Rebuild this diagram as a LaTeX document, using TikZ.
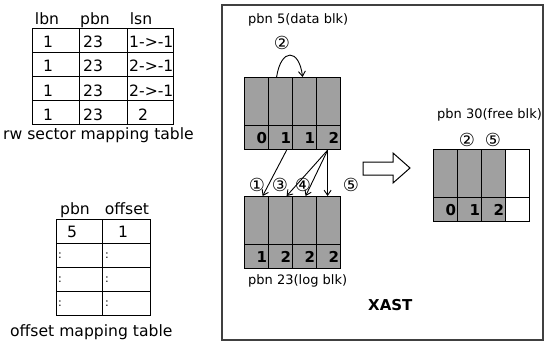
\documentclass[tikz,border=0pt]{standalone}
\usepackage{fontspec}
\setmainfont{DejaVu Sans}
\usetikzlibrary{arrows.meta}
\definecolor{cellgray}{HTML}{A0A0A0}
\begin{document}
\begin{tikzpicture}[x=1pt,y=-1pt,
  tabtxt/.style={font=\fontsize{15.6}{16}\selectfont, inner sep=0pt},
  ttl/.style={font=\fontsize{13}{14}\selectfont, inner sep=0pt, anchor=base west},
  circ/.style={font=\fontsize{18}{18}\selectfont, inner sep=0pt},
  tcell/.style={draw, line width=1.2pt, minimum height=24pt, inner sep=0pt, anchor=north west},
  ucell/.style={draw, line width=1.2pt, fill=cellgray, minimum width=24pt, minimum height=48pt, inner sep=0pt, anchor=north west},
  lcell/.style={draw, line width=1.2pt, fill=cellgray, minimum width=24pt, minimum height=24pt, inner sep=0pt, anchor=north west,
    text width=21pt, align=right, font=\bfseries\fontsize{15}{15}\selectfont},
  flow/.style={line width=0.9pt, -{Straight Barb[length=5pt,width=7pt]}},
  dots/.style={font=\fontsize{11}{11}\selectfont, inner sep=0pt},
]
\useasboundingbox (0,0) rectangle (545,342);

% ---------- rw sector mapping table ----------
\node[tabtxt, anchor=base] (hlbn) at (47,25) {lbn};
\node[tabtxt, anchor=base] (hpbn) at (95,25) {pbn};
\node[tabtxt, anchor=base] (hlsn) at (141,25) {lsn};
\foreach \r/\s in {1/1->-1, 2/2->-1, 3/2->-1} {
  \node[tcell, minimum width=47pt] (rwa\r) at (32,{28+24*(\r-1)}) {};
  \node[tcell, minimum width=48pt] (rwb\r) at (79,{28+24*(\r-1)}) {};
  \node[tcell, minimum width=46pt] (rwc\r) at (127,{28+24*(\r-1)}) {};
  \node[tabtxt, anchor=base] (rwta\r) at (48,{48+24*(\r-1)}) {1};
  \node[tabtxt, anchor=base west] (rwtb\r) at (83,{48+24*(\r-1)}) {23};
  \node[tabtxt, anchor=base west] (rwtc\r) at (129,{48+24*(\r-1)}) {\s};
}
\node[tcell, minimum width=47pt] (rwa4) at (32,100) {};
\node[tcell, minimum width=48pt] (rwb4) at (79,100) {};
\node[tcell, minimum width=46pt] (rwc4) at (127,100) {};
\node[tabtxt, anchor=base] (rwta4) at (48,120) {1};
\node[tabtxt, anchor=base west] (rwtb4) at (83,120) {23};
\node[tabtxt, anchor=base] (rwtc4) at (143,120) {2};
\node[tabtxt, anchor=base west] (rwcap) at (3,139) {rw sector mapping table};

% ---------- offset mapping table ----------
\node[tabtxt, anchor=base] (hopbn) at (75,214) {pbn};
\node[tabtxt, anchor=base] (hooff) at (127,214) {offset};
\foreach \r in {1,...,4} {
  \node[tcell, minimum width=46pt] (ofa\r) at (56,{219+24*(\r-1)}) {};
  \node[tcell, minimum width=48pt] (ofb\r) at (102,{219+24*(\r-1)}) {};
}
\node[tabtxt, anchor=base] (oft5) at (72,237) {5};
\node[tabtxt, anchor=base] (oft1) at (123,237) {1};
\foreach \r in {2,3,4} {
  \node[dots] (ofda\r) at (60,{256+24*(\r-2)}) {:};
  \node[dots] (ofdb\r) at (107,{256+24*(\r-2)}) {:};
}
\node[tabtxt, anchor=base west] (ofcap) at (10,336) {offset mapping table};

% ---------- XAST panel ----------
\draw[line width=1.3pt, black!75] (222,5) rectangle (543,340);

% data block (pbn 5)
\node[ttl] (tdata) at (248,24) {pbn 5(data blk)};
\foreach \i/\d in {0/0,1/1,2/1,3/2} {
  \node[ucell] (du\i) at ({244+24*\i},77) {};
  \node[lcell] (dl\i) at ({244+24*\i},125) {\d};
}
\node[circ] (c2a) at (282,43) {②};
\draw[flow]
  ([xshift=-4pt]du1.north) .. controls (281,48) and (299,48) .. ([xshift=-2pt]du2.north);

% log block (pbn 23)
\foreach \i/\d in {0/1,1/2,2/2,3/2} {
  \node[ucell] (lu\i) at ({244+24*\i},196) {};
  \node[lcell] (ll\i) at ({244+24*\i},244) {\d};
}
\node[ttl] (tlog) at (248,284) {pbn 23(log blk)};
\node[circ] (c1) at (257,185) {①};
\node[circ] (c3) at (280,185) {③};
\node[circ] (c4) at (303,185) {④};
\node[circ] (c5) at (351,185) {⑤};

% sector moves from data block to log block
\draw[flow] ([xshift=6pt]dl1.south) -- ([xshift=6pt]lu0.north);
\draw[flow] ([xshift=-1pt]dl3.south) -- ([xshift=6pt]lu1.north);
\draw[flow] ([xshift=-1pt]dl3.south) -- ([xshift=1pt]lu2.north);
\draw[flow] ([xshift=-1pt]dl3.south) -- ([xshift=-1pt]lu3.north);

% hollow merge arrow
\draw[line width=1pt, fill=white, line join=miter]
  (363,162) -- (393,162) -- (393,153) -- (410,168) -- (393,183) -- (393,175) -- (363,175) -- cycle;

% free block (pbn 30)
\node[ttl] (tfree) at (437,118) {pbn 30(free blk)};
\node[circ] (c2b) at (467,140) {②};
\node[circ] (c5b) at (493,140) {⑤};
\foreach \i/\d in {0/0,1/1,2/2} {
  \node[ucell] (fu\i) at ({433+24*\i},149) {};
  \node[lcell] (fl\i) at ({433+24*\i},197) {\d};
}
\node[ucell, fill=white] (fu3) at (505,149) {};
\node[lcell, fill=white] (fl3) at (505,197) {};

\node[font=\bfseries\fontsize{15}{15}\selectfont, inner sep=0pt, anchor=base west] (xast) at (368,310) {XAST};
\end{tikzpicture}
\end{document}
